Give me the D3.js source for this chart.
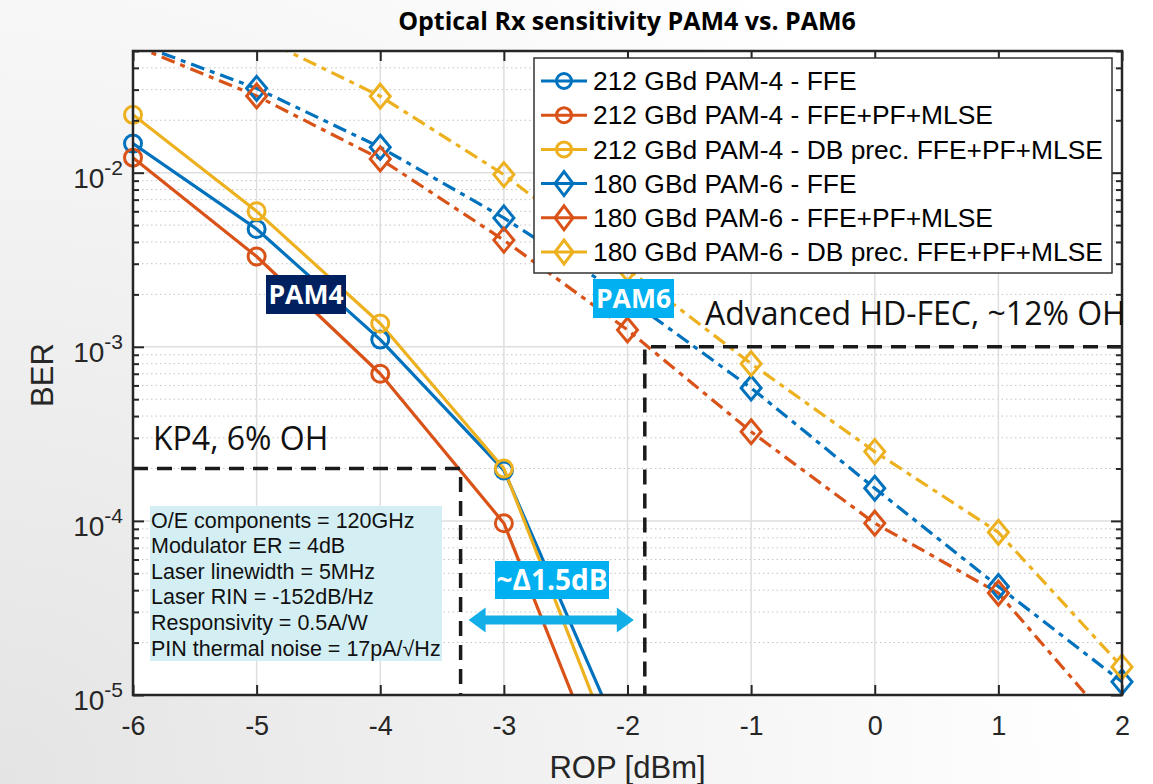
<!DOCTYPE html>
<html>
<head>
<meta charset="utf-8">
<script src="https://cdn.jsdelivr.net/npm/d3@7"></script>
<style>
  html, body { margin: 0; padding: 0; background: #ffffff; }
  svg { display: block; }
</style>
</head>
<body>
<svg id="chart" width="1153" height="784"></svg>
<script>
// ---- data -------------------------------------------------------------
const ropPam4 = [-6, -5, -4, -3, -2];
const ropPam6 = [-6, -5, -4, -3, -2, -1, 0, 1, 2];

const berPam4Ffe  = [1.47e-2, 4.75e-3, 1.10e-3, 1.95e-4, 4.6e-6];
const berPam4Mlse = [1.22e-2, 3.30e-3, 7.0e-4, 9.7e-5, 1.6e-6];
const berPam4Db   = [2.15e-2, 6.0e-3, 1.36e-3, 2.0e-4, 3.0e-6];

const berPam6Ffe  = [5.6e-2, 3.05e-2, 1.40e-2, 5.5e-3, 1.9e-3, 5.8e-4, 1.54e-4, 4.2e-5, 1.19e-5];
const berPam6Mlse = [5.4e-2, 2.76e-2, 1.20e-2, 4.1e-3, 1.25e-3, 3.25e-4, 9.7e-5, 3.85e-5, 5.8e-6];
const berPam6Db   = [1.2e-1, 6.1e-2, 2.75e-2, 9.75e-3, 2.8e-3, 8.0e-4, 2.5e-4, 8.6e-5, 1.45e-5];

const seriesNames = [
  "212 GBd PAM-4 - FFE",
  "212 GBd PAM-4 - FFE+PF+MLSE",
  "212 GBd PAM-4 - DB prec. FFE+PF+MLSE",
  "180 GBd PAM-6 - FFE",
  "180 GBd PAM-6 - FFE+PF+MLSE",
  "180 GBd PAM-6 - DB prec. FFE+PF+MLSE"
];

const xTickValues = [-6, -5, -4, -3, -2, -1, 0, 1, 2];
const yDecadeExponents = [-5, -4, -3, -2];

// FEC thresholds (BER limit and the ROP where the best curve meets it)
const kp4Ber = 2e-4,   kp4Rop = -3.35;
const hdFecBer = 1e-3, hdFecRop = -1.86;

const simParams = [
  "O/E components = 120GHz",
  "Modulator ER = 4dB",
  "Laser linewidth = 5MHz",
  "Laser RIN = -152dB/Hz",
  "Responsivity = 0.5A/W",
  "PIN thermal noise = 17pA/\u221AHz"
];

// ---- layout -----------------------------------------------------------
const W = 1153, H = 784;
const plot = { left: 133, right: 1122, top: 51, bottom: 695 };

const colBlue = "#0072BD", colRed = "#D95319", colYellow = "#EDB120";
const axisCol = "#262626";
const axisFont = "'Liberation Sans', Arial, Helvetica, sans-serif";
const slideFont = "'Open Sans', 'Noto Sans', sans-serif";
const dashDot = "14,6,5,6";

const series = [
  { name: seriesNames[0], x: ropPam4, y: berPam4Ffe,  color: colBlue,   dash: null, marker: "circle" },
  { name: seriesNames[1], x: ropPam4, y: berPam4Mlse, color: colRed,    dash: null, marker: "circle" },
  { name: seriesNames[2], x: ropPam4, y: berPam4Db,   color: colYellow, dash: null, marker: "circle" },
  { name: seriesNames[3], x: ropPam6, y: berPam6Ffe,  color: colBlue,   dash: dashDot, marker: "diamond" },
  { name: seriesNames[4], x: ropPam6, y: berPam6Mlse, color: colRed,    dash: dashDot, marker: "diamond" },
  { name: seriesNames[5], x: ropPam6, y: berPam6Db,   color: colYellow, dash: dashDot, marker: "diamond" }
];

const svg = d3.select("#chart");
const defs = svg.append("defs");

// page background: pale grey slide, darker toward the lower left
const bg = defs.append("radialGradient").attr("id", "pageBg")
  .attr("gradientUnits", "userSpaceOnUse")
  .attr("cx", 0).attr("cy", H).attr("r", 1100);
bg.append("stop").attr("offset", "0").attr("stop-color", "#e4e4e4");
bg.append("stop").attr("offset", "0.55").attr("stop-color", "#f3f3f3");
bg.append("stop").attr("offset", "1").attr("stop-color", "#ffffff");
svg.append("rect").attr("width", W).attr("height", H).attr("fill", "url(#pageBg)");

defs.append("clipPath").attr("id", "plotClip")
  .append("rect")
  .attr("x", plot.left).attr("y", plot.top)
  .attr("width", plot.right - plot.left).attr("height", plot.bottom - plot.top);

// ---- scales -----------------------------------------------------------
const x = d3.scaleLinear().domain([-6, 2]).range([plot.left, plot.right]);
const y = d3.scaleLog().domain([1e-5, 5e-2]).range([plot.bottom, plot.top]);

const majorY = yDecadeExponents.map(e => Math.pow(10, e));
const minorY = [];
yDecadeExponents.forEach(e => {
  for (let k = 2; k <= 9; k++) {
    const v = k * Math.pow(10, e);
    if (v <= 5e-2 + 1e-12) minorY.push(v);
  }
});

// plot face
svg.append("rect")
  .attr("x", plot.left).attr("y", plot.top)
  .attr("width", plot.right - plot.left).attr("height", plot.bottom - plot.top)
  .attr("fill", "#ffffff");

// ---- grid -------------------------------------------------------------
const grid = svg.append("g");
grid.selectAll("line.minor").data(minorY.filter(v => v < 5e-2)).join("line")
  .attr("x1", plot.left).attr("x2", plot.right)
  .attr("y1", d => y(d)).attr("y2", d => y(d))
  .attr("stroke", "#c4c4c4").attr("stroke-width", 1)
  .attr("stroke-dasharray", "1.5,3");
grid.selectAll("line.majY").data(majorY).join("line")
  .attr("x1", plot.left).attr("x2", plot.right)
  .attr("y1", d => y(d)).attr("y2", d => y(d))
  .attr("stroke", "#dedede").attr("stroke-width", 1.5);
grid.selectAll("line.majX").data(xTickValues).join("line")
  .attr("x1", d => x(d)).attr("x2", d => x(d))
  .attr("y1", plot.top).attr("y2", plot.bottom)
  .attr("stroke", "#dedede").attr("stroke-width", 1.5);

// ---- data -------------------------------------------------------------
const line = d3.line().x(d => x(d[0])).y(d => y(d[1]));
const markerPath = {
  circle: "M 0,-8.5 A 8.5,8.5 0 1,1 0,8.5 A 8.5,8.5 0 1,1 0,-8.5 Z",
  diamond: "M 0,-12 L 10,0 L 0,12 L -10,0 Z"
};

const dataG = svg.append("g");
const linesG = dataG.append("g").attr("clip-path", "url(#plotClip)");
series.forEach(s => {
  const pts = s.x.map((v, i) => [v, s.y[i]]);
  linesG.append("path")
    .attr("d", line(pts))
    .attr("fill", "none")
    .attr("stroke", s.color)
    .attr("stroke-width", 3.2)
    .attr("stroke-linejoin", "round")
    .attr("stroke-dasharray", s.dash);
});
series.forEach(s => {
  const pts = s.x.map((v, i) => [v, s.y[i]])
    .filter(p => p[1] >= 1e-5 && p[1] <= 5e-2);
  dataG.append("g").selectAll("path").data(pts).join("path")
    .attr("transform", d => `translate(${x(d[0])},${y(d[1])})`)
    .attr("d", markerPath[s.marker])
    .attr("fill", "none")
    .attr("stroke", s.color)
    .attr("stroke-width", 3);
});

// ---- FEC threshold lines ---------------------------------------------
const thr = svg.append("g")
  .attr("stroke", "#1a1a1a").attr("stroke-width", 3.5)
  .attr("stroke-dasharray", "15,9").attr("fill", "none");
thr.append("path").attr("d",
  `M${plot.left},${y(kp4Ber)} H${x(kp4Rop)} V${plot.bottom}`);
thr.append("path").attr("d",
  `M${plot.right},${y(hdFecBer)} H${x(hdFecRop)} V${plot.bottom}`);

// ---- axes -------------------------------------------------------------
function styleAxis(g) {
  g.select(".domain").remove();
  g.selectAll(".tick line").attr("stroke", axisCol).attr("stroke-width", 2);
  g.selectAll("text").attr("fill", axisCol);
}
const xFmt = d => String(d);

const xAxisB = svg.append("g")
  .attr("transform", `translate(0,${plot.bottom})`)
  .call(d3.axisBottom(x).tickValues(xTickValues).tickFormat(xFmt)
        .tickSizeInner(-10).tickSizeOuter(0).tickPadding(21));
styleAxis(xAxisB);
xAxisB.selectAll("text").attr("font-family", axisFont).attr("font-size", 27);

const xAxisT = svg.append("g")
  .attr("transform", `translate(0,${plot.top})`)
  .call(d3.axisTop(x).tickValues(xTickValues).tickFormat("")
        .tickSizeInner(-10).tickSizeOuter(0));
styleAxis(xAxisT);

const yAxisL = svg.append("g")
  .attr("transform", `translate(${plot.left},0)`)
  .call(d3.axisLeft(y).tickValues(majorY).tickFormat("")
        .tickSizeInner(-11).tickSizeOuter(0));
styleAxis(yAxisL);
const yAxisLm = svg.append("g")
  .attr("transform", `translate(${plot.left},0)`)
  .call(d3.axisLeft(y).tickValues(minorY).tickFormat("")
        .tickSizeInner(-6).tickSizeOuter(0));
styleAxis(yAxisLm);
const yAxisR = svg.append("g")
  .attr("transform", `translate(${plot.right},0)`)
  .call(d3.axisRight(y).tickValues(majorY).tickFormat("")
        .tickSizeInner(-11).tickSizeOuter(0));
styleAxis(yAxisR);
const yAxisRm = svg.append("g")
  .attr("transform", `translate(${plot.right},0)`)
  .call(d3.axisRight(y).tickValues(minorY).tickFormat("")
        .tickSizeInner(-6).tickSizeOuter(0));
styleAxis(yAxisRm);

// decade labels written as 10 with a superscript exponent
const yLab = svg.append("g").attr("font-family", axisFont).attr("fill", axisCol);
yDecadeExponents.forEach(e => {
  const t = yLab.append("text")
    .attr("x", plot.left - 10)
    .attr("y", y(Math.pow(10, e)) + 15)
    .attr("text-anchor", "end");
  t.append("tspan").attr("font-size", 28).text("10");
  t.append("tspan").attr("font-size", 21).attr("dy", -13).text(String(e));
});

// axes box
svg.append("rect")
  .attr("x", plot.left).attr("y", plot.top)
  .attr("width", plot.right - plot.left).attr("height", plot.bottom - plot.top)
  .attr("fill", "none").attr("stroke", axisCol).attr("stroke-width", 2.5);

// axis titles
svg.append("text")
  .attr("transform", `translate(53,${(plot.top + plot.bottom) / 2 + 2}) rotate(-90)`)
  .attr("text-anchor", "middle")
  .attr("font-family", axisFont).attr("font-size", 31).attr("fill", axisCol)
  .text("BER");
svg.append("text")
  .attr("x", (plot.left + plot.right) / 2).attr("y", 778)
  .attr("text-anchor", "middle")
  .attr("font-family", axisFont).attr("font-size", 31).attr("fill", axisCol)
  .text("ROP [dBm]");

// ---- annotations ------------------------------------------------------
const ann = svg.append("g");

ann.append("text")
  .attr("x", 153).attr("y", y(kp4Ber) - 18)
  .attr("font-family", slideFont).attr("font-size", 32).attr("fill", "#111")
  .text("KP4, 6% OH");
ann.append("text")
  .attr("x", 705).attr("y", y(hdFecBer) - 22)
  .attr("font-family", slideFont).attr("font-size", 32).attr("fill", "#111")
  .text("Advanced HD-FEC, ~12% OH");

function tag(cx, cy, w, h, fill, label, size) {
  ann.append("rect")
    .attr("x", cx - w / 2).attr("y", cy - h / 2)
    .attr("width", w).attr("height", h).attr("fill", fill);
  ann.append("text")
    .attr("x", cx).attr("y", cy)
    .attr("dy", "0.36em")
    .attr("text-anchor", "middle")
    .attr("font-family", slideFont).attr("font-weight", 700)
    .attr("font-size", size).attr("fill", "#ffffff")
    .text(label);
}
tag(306, 294.5, 80, 39, "#002060", "PAM4", 26.5);
tag(633.5, 298.5, 81, 39, "#00B0F0", "PAM6", 26.5);

// simulation parameter panel
const boxX = 150, boxY = 506, boxW = 292, boxH = 155;
ann.append("rect")
  .attr("x", boxX).attr("y", boxY).attr("width", boxW).attr("height", boxH)
  .attr("fill", "#D4EFF4");
ann.append("g").selectAll("text").data(simParams).join("text")
  .attr("x", boxX + 1)
  .attr("y", (d, i) => 527.5 + i * 25.6)
  .attr("font-family", axisFont).attr("font-size", 21.5).attr("fill", "#111")
  .text(d => d);

// sensitivity gap between the two FEC crossings
tag(552, 580, 114, 38, "#00B0F0", "~\u03941.5dB", 28);
const aY = 620, aL = x(kp4Rop) + 8, aR = x(hdFecRop) - 11;
const shaft = 4.5, head = 12.5, headLen = 17;
ann.append("path")
  .attr("d", [
    `M${aL},${aY}`,
    `L${aL + headLen},${aY - head}`,
    `L${aL + headLen},${aY - shaft}`,
    `L${aR - headLen},${aY - shaft}`,
    `L${aR - headLen},${aY - head}`,
    `L${aR},${aY}`,
    `L${aR - headLen},${aY + head}`,
    `L${aR - headLen},${aY + shaft}`,
    `L${aL + headLen},${aY + shaft}`,
    `L${aL + headLen},${aY + head}`,
    "Z"
  ].join(" "))
  .attr("fill", "#12AEE8");

// ---- legend -----------------------------------------------------------
const lg = svg.append("g");
lg.append("rect")
  .attr("x", 534).attr("y", 58).attr("width", 578).attr("height", 215)
  .attr("fill", "#ffffff").attr("stroke", "#333333").attr("stroke-width", 1.5);
series.forEach((s, i) => {
  const ry = 81 + i * 34.2;
  lg.append("line")
    .attr("x1", 541).attr("x2", 587).attr("y1", ry).attr("y2", ry)
    .attr("stroke", s.color).attr("stroke-width", 3);
  lg.append("path")
    .attr("transform", `translate(564,${ry})`)
    .attr("d", s.marker === "circle"
      ? "M 0,-7.5 A 7.5,7.5 0 1,1 0,7.5 A 7.5,7.5 0 1,1 0,-7.5 Z"
      : "M 0,-12 L 9,0 L 0,12 L -9,0 Z")
    .attr("fill", "none").attr("stroke", s.color).attr("stroke-width", 3);
  lg.append("text")
    .attr("x", 593).attr("y", ry).attr("dy", "0.35em")
    .attr("font-family", axisFont).attr("font-size", 26.4).attr("fill", "#000")
    .text(s.name);
});

// ---- title ------------------------------------------------------------
svg.append("text")
  .attr("x", 627).attr("y", 30)
  .attr("text-anchor", "middle")
  .attr("font-family", slideFont).attr("font-weight", 700)
  .attr("font-size", 25).attr("fill", "#000")
  .text("Optical Rx sensitivity PAM4 vs. PAM6");
</script>
</body>
</html>
